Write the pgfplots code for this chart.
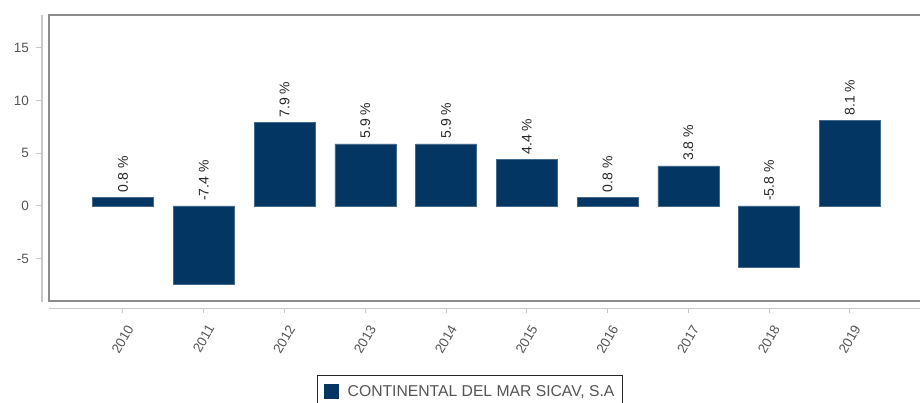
\documentclass[border=0pt]{standalone}
\usepackage{pgfplots}
\pgfplotsset{compat=1.18}
\usepackage{fontspec}
\setmainfont{Liberation Sans}
\definecolor{barblue}{HTML}{033663}
\definecolor{framegray}{HTML}{8C8C8C}
\definecolor{linegray}{HTML}{C8C8C8}
\definecolor{labgray}{HTML}{555555}
\begin{document}
\begin{tikzpicture}
\begin{axis}[
  at={(49pt,102.3pt)}, anchor=south west,
  scale only axis, width=876pt, height=285.4pt,
  xmin=-0.916, xmax=9.93, ymin=-9, ymax=18.1,
  clip=false,
  axis line style={framegray, line width=1.8pt},
  xtick={0,1,2,3,4,5,6,7,8,9},
  xticklabels={2010,2011,2012,2013,2014,2015,2016,2017,2018,2019},
  ytick={-5,0,5,10,15},
  yticklabels={-5,0,5,10,15},
  major tick length=0pt,
  tick label style={font=\fontsize{13.5}{15}\selectfont, text=labgray, inner sep=0pt},
  yticklabel style={anchor=east, xshift=-20pt},
  xticklabel style={xshift=7.3pt, yshift=-25.3pt, rotate=60, anchor=east},
  legend style={at={(0.306,-0.2593)}, anchor=north west, draw=black!85, line width=1.3pt,
    font=\fontsize{15.7}{17}\selectfont, text=labgray, inner xsep=6pt, inner ysep=8pt,
    cells={anchor=west}},
  legend image code/.code={\fill[barblue, draw=none] (0pt,-7.5pt) rectangle (15pt,7.5pt); \path[draw=none, fill=none] (0pt,0pt) -- (22pt,0pt);},
]
\addplot[ybar, bar width=0.755, fill=barblue, draw=barblue!75!white, line width=0.5pt]
  coordinates {(0,0.8) (1,-7.4) (2,7.9) (3,5.9) (4,5.9) (5,4.4) (6,0.8) (7,3.8) (8,-5.8) (9,8.1)};
\addlegendentry{CONTINENTAL DEL MAR SICAV, S.A}
\addplot[forget plot, only marks, mark=*, mark size=0pt,
  scatter/use mapped color={draw opacity=0, fill opacity=0},
  mark options={draw opacity=0, fill opacity=0},
  nodes near coords, point meta=explicit symbolic,
  nodes near coords style={rotate=90, anchor=west, inner sep=5pt,
    font=\fontsize{14}{16}\selectfont, text=black!85, text opacity=1}]
  coordinates {(0,0.8)[0.8 \%] (1,0)[-7.4 \%] (2,7.9)[7.9 \%] (3,5.9)[5.9 \%] (4,5.9)[5.9 \%]
    (5,4.4)[4.4 \%] (6,0.8)[0.8 \%] (7,3.8)[3.8 \%] (8,0)[-5.8 \%] (9,8.1)[8.1 \%]};
\draw[linegray, line width=1.3pt] ([xshift=-7pt,yshift=-1.5pt]rel axis cs:0,0) -- ([xshift=-7pt]rel axis cs:0,1);
\draw[linegray, line width=1.3pt] ([yshift=-7.5pt]rel axis cs:0,0) -- ([yshift=-7.5pt]rel axis cs:1,0);
\pgfplotsinvokeforeach{0,...,9}{\draw[linegray, line width=1pt] ([yshift=-7.5pt]axis cs:#1,-9) -- ++(0pt,-5pt);}
\pgfplotsinvokeforeach{-5,0,5,10,15}{\draw[linegray, line width=1pt] ([xshift=-7pt]axis cs:-0.916,#1) -- ++(-6pt,0pt);}
\end{axis}
\pgfresetboundingbox
\useasboundingbox (0,0) rectangle (920pt,403pt);
\end{tikzpicture}
\end{document}
